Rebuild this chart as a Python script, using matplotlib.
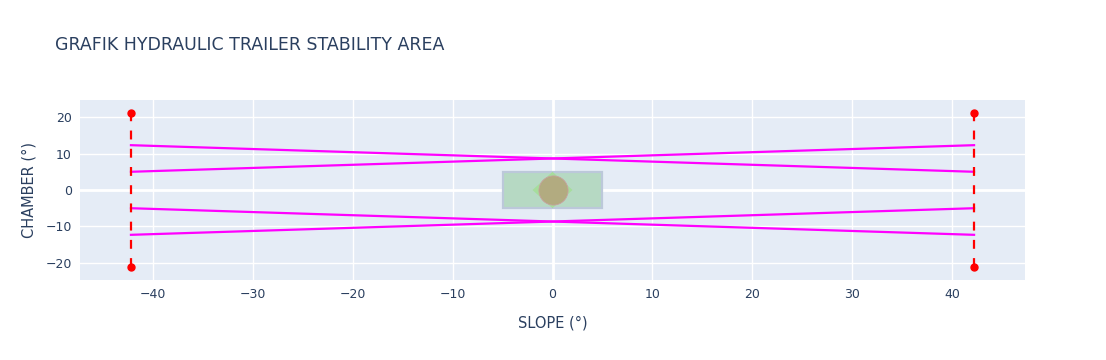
import numpy as np
import matplotlib.pyplot as plt
from matplotlib.patches import Rectangle, Polygon

# batas stabilitas (derajat)
slope_lim = 42.2
chamber_lim = 21.2

# garis magenta: nilai chamber di ujung kiri dan kanan
line_x = [-42.2, 42.2]
line_left = [12.3, 5.0, -5.0, -12.3]
line_right = [5.0, 12.3, -12.3, -5.0]

# area aman di tengah
safe_x = [-5, 5]
safe_y = [-5, 5]
diamond_x = [-2, 0, 2, 0]
diamond_y = [0, 5, 0, -5]
center_x = [0]
center_y = [0]

xticks = [-40, -30, -20, -10, 0, 10, 20, 30, 40]
yticks = [-20, -10, 0, 10, 20]

txt = '#2a3f5f'
plt.rcParams['font.family'] = ['DejaVu Sans']

fig = plt.figure(figsize=(11.06, 3.6), dpi=100)
ax = fig.add_axes([80 / 1106, 80 / 360, 945 / 1106, 180 / 360])
ax.set_facecolor('#e5ecf6')

# area aman
ax.add_patch(Rectangle((safe_x[0], safe_y[0]), safe_x[1] - safe_x[0], safe_y[1] - safe_y[0],
                       facecolor='#b6d9c3', edgecolor='#bcc8da', linewidth=1.6, zorder=3))
ax.add_patch(Polygon(list(zip(diamond_x, diamond_y)), closed=True,
                     facecolor='#a6dd9c', edgecolor='none', zorder=4))
ax.scatter(center_x, center_y, s=440, color='#b2ab80', edgecolors='#c8a0a0',
           linewidths=0.6, zorder=5)

# garis magenta
for yl, yr in zip(line_left, line_right):
    ax.plot(line_x, [yl, yr], color='#ff00ff', linewidth=1.6, zorder=6)

# batas kiri dan kanan
for sx in [-slope_lim, slope_lim]:
    ax.plot([sx, sx], [-chamber_lim, chamber_lim], color='red', linewidth=1.6,
            linestyle=(0, (4, 4.2)), marker='o', markersize=5, zorder=7)

ax.set_xlim(-47.3, 47.3)
ax.set_ylim(-24.7, 24.7)
ax.set_xticks(xticks)
ax.set_yticks(yticks)
ax.set_xticklabels(['\u2212' + str(-t) if t < 0 else str(t) for t in xticks])
ax.set_yticklabels(['\u2212' + str(-t) if t < 0 else str(t) for t in yticks])
ax.grid(True, color='white', linewidth=1, zorder=0)
ax.set_axisbelow(True)
ax.axhline(0, color='white', linewidth=2, zorder=1)
ax.axvline(0, color='white', linewidth=2, zorder=1)
for s in ax.spines.values():
    s.set_visible(False)
ax.tick_params(length=0, pad=6, labelsize=9, labelcolor=txt)

ax.set_xlabel('SLOPE (°)', fontsize=10.5, color=txt, labelpad=10)
ax.set_ylabel('CHAMBER (°)', fontsize=10.5, color=txt, labelpad=6)
fig.text(55 / 1106, 1 - 45 / 360, 'GRAFIK HYDRAULIC TRAILER STABILITY AREA',
         fontsize=12.5, color=txt, va='center', ha='left')

fig.savefig('out.png', dpi=100)
